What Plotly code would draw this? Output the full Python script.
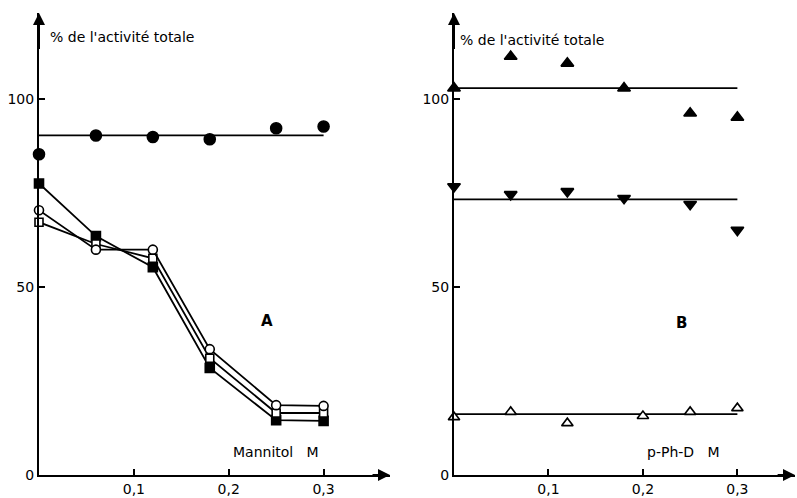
import plotly.graph_objects as go

# ---------------- data ----------------
conc_A = [0, 0.06, 0.12, 0.18, 0.25, 0.30]
filled_circles = [85.4, 90.4, 90.0, 89.4, 92.3, 92.8]
filled_squares = [77.6, 63.6, 55.3, 28.5, 14.6, 14.4]
open_circles = [70.5, 60.0, 60.0, 33.5, 18.6, 18.4]
open_squares = [67.3, 61.5, 57.7, 31.1, 16.5, 16.5]
level_A_circles = 90.4

conc_B = [0, 0.06, 0.12, 0.18, 0.25, 0.30]
conc_B_open = [0, 0.06, 0.12, 0.20, 0.25, 0.30]
up_filled = [103.0, 111.4, 109.6, 103.0, 96.3, 95.2]
down_filled = [76.8, 74.7, 75.5, 73.7, 72.1, 65.2]
up_open = [15.4, 16.8, 13.8, 15.7, 16.8, 17.8]
level_up_filled = 103.0
level_down_filled = 73.4
level_up_open = 16.2

y_ticks = [0, 50, 100]
x_ticks = [0.1, 0.2, 0.3]
x_ticklabels = ["0,1", "0,2", "0,3"]
y_title = "% de l'activité totale"
x_title_A = "Mannitol   M"
x_title_B = "p-Ph-D   M"

FONT = "DejaVu Sans"
fig = go.Figure()

def add(x, y, xa, ya, mode, symbol=None, size=9, fill=True, lw=1.8):
    marker = None
    if symbol:
        marker = dict(symbol=symbol, size=size,
                      color="black" if fill else "white",
                      line=dict(color="black", width=1.6))
    fig.add_trace(go.Scatter(x=x, y=y, xaxis=xa, yaxis=ya, mode=mode,
                             marker=marker, line=dict(color="black", width=lw),
                             cliponaxis=False, showlegend=False, hoverinfo="skip"))

# Panel A
add([conc_A[0], conc_A[-1]], [level_A_circles] * 2, "x", "y", "lines")
add(conc_A, filled_squares, "x", "y", "lines+markers", "square", 9, True)
add(conc_A, open_squares, "x", "y", "lines+markers", "square", 8, False)
add(conc_A, open_circles, "x", "y", "lines+markers", "circle", 9, False)
add(conc_A, filled_circles, "x", "y", "markers", "circle", 11, True)

# Panel B
add([conc_B[0], conc_B[-1]], [level_up_filled] * 2, "x2", "y2", "lines")
add([conc_B[0], conc_B[-1]], [level_down_filled] * 2, "x2", "y2", "lines")
add([conc_B_open[0], conc_B_open[-1]], [level_up_open] * 2, "x2", "y2", "lines")
add(conc_B, up_filled, "x2", "y2", "markers", "triangle-up", 11, True)
add(conc_B, down_filled, "x2", "y2", "markers", "triangle-down", 11, True)
add(conc_B_open, up_open, "x2", "y2", "markers", "triangle-up", 10, False)

H = 498
W = 797
ydom = [23 / H, 485 / H]
axis_common = dict(showline=True, linecolor="black", linewidth=2, ticks="inside",
                   ticklen=6, tickwidth=1.5, tickcolor="black", showgrid=False,
                   zeroline=False, automargin=False,
                   tickfont=dict(family=FONT, size=14, color="black"))

fig.update_layout(
    width=W, height=H, margin=dict(l=0, r=0, t=0, b=0, autoexpand=False),
    paper_bgcolor="white", plot_bgcolor="white",
    xaxis=dict(domain=[39 / W, 390 / W], range=[0, 0.37], tickvals=x_ticks,
               ticktext=x_ticklabels, anchor="y", **axis_common),
    yaxis=dict(domain=ydom, range=[0, 123], tickvals=y_ticks, anchor="x", **axis_common),
    xaxis2=dict(domain=[454 / W, 795 / W], range=[0, 0.361], tickvals=x_ticks,
                ticktext=x_ticklabels, anchor="y2", **axis_common),
    yaxis2=dict(domain=ydom, range=[0, 123], tickvals=y_ticks, anchor="x2", **axis_common),
)

ann = []
for xr, yr, xmax in (("x", "y", 0.37), ("x2", "y2", 0.361)):
    ann.append(dict(x=xmax, y=0, ax=xmax - 0.02, ay=0, xref=xr, yref=yr, axref=xr, ayref=yr,
                    showarrow=True, arrowhead=2, arrowsize=1.2, arrowwidth=2,
                    arrowcolor="black", text=""))
    ann.append(dict(x=0, y=123, ax=0, ay=113, xref=xr, yref=yr, axref=xr, ayref=yr,
                    showarrow=True, arrowhead=2, arrowsize=1.2, arrowwidth=2,
                    arrowcolor="black", text=""))

tf = dict(family=FONT, size=14, color="black")
ann += [
    dict(x=0.009, y=116.5, xref="x", yref="y", text=y_title, showarrow=False,
         xanchor="left", yanchor="middle", font=tf),
    dict(x=0.004, y=115.7, xref="x2", yref="y2", text=y_title, showarrow=False,
         xanchor="left", yanchor="middle", font=tf),
    dict(x=0.24, y=41, xref="x", yref="y", text="<b>A</b>", showarrow=False,
         font=dict(family=FONT, size=15, color="black")),
    dict(x=0.241, y=40.4, xref="x2", yref="y2", text="<b>B</b>", showarrow=False,
         font=dict(family=FONT, size=15, color="black")),
    dict(x=0.25, y=6.1, xref="x", yref="y", text=x_title_A, showarrow=False, font=tf),
    dict(x=0.243, y=6.0, xref="x2", yref="y2", text=x_title_B, showarrow=False, font=tf),
]
fig.update_layout(annotations=ann)

fig.write_html("out.html")
